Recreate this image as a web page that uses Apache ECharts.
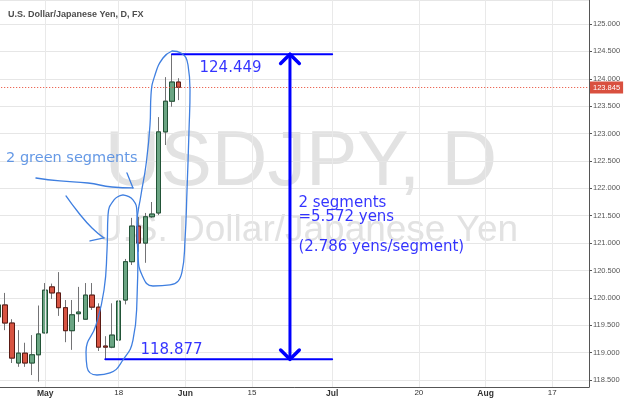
<!DOCTYPE html>
<html lang="en">
<head>
	<meta charset="UTF-8">
	<title>USDJPY, D</title>
	<script src="https://cdn.jsdelivr.net/npm/echarts@6/dist/echarts.min.js"></script>
	<style>
		html,body{width:100%;height:100%;margin:0;padding:0;background:#fff;}
		#chart{width:625px;height:399px;}
	</style>
</head>
<body>
	<div id="chart"></div>
<script>
	// trading days (weekdays) shown on the time axis
	var days = [
		'04-22','04-23','04-24','04-27','04-28','04-29','04-30',
		'05-01','05-04','05-05','05-06','05-07','05-08','05-11','05-12','05-13','05-14','05-15',
		'05-18','05-19','05-20','05-21','05-22','05-25','05-26','05-27','05-28','05-29',
		'06-01','06-02','06-03','06-04','06-05','06-08','06-09','06-10','06-11','06-12',
		'06-15','06-16','06-17','06-18','06-19','06-22','06-23','06-24','06-25','06-26','06-29','06-30',
		'07-01','07-02','07-03','07-06','07-07','07-08','07-09','07-10','07-13','07-14','07-15','07-16','07-17',
		'07-20','07-21','07-22','07-23','07-24','07-27','07-28','07-29','07-30','07-31',
		'08-03','08-04','08-05','08-06','08-07','08-10','08-11','08-12','08-13','08-14',
		'08-17','08-18','08-19','08-20','08-21','08-24'
	];

	// daily candles, Apr 22 .. May 29
	var opens  = [119.65,119.87,119.54,118.81,118.99,118.81,118.96,119.36,120.20,120.09,119.82,119.40,119.71,119.61,
	              120.05,119.83,119.12,119.10,119.23,119.96,120.66,121.31,121.00,121.48,121.55,123.03,123.59,123.94];
	var closes = [119.87,119.54,118.90,118.99,118.81,118.96,119.34,120.14,120.09,119.82,119.40,119.69,119.74,120.05,
	              119.83,119.10,119.10,119.32,119.94,120.66,121.31,121.00,121.48,121.53,123.03,123.59,123.94,123.845];
	var lows   = [119.60,119.41,118.81,118.74,118.74,118.59,118.47,119.35,119.98,119.67,119.19,119.05,119.56,119.60,
	              119.78,119.03,118.877,119.08,119.21,119.88,120.60,120.84,120.64,121.46,121.51,122.79,123.49,123.61];
	var highs  = [119.95,120.09,119.61,119.41,119.18,119.32,119.86,120.27,120.26,120.47,119.96,119.96,120.20,120.27,
	              120.27,119.90,119.30,119.90,119.97,120.71,121.46,121.48,121.55,121.75,123.30,124.03,124.449,124.01];

	// time axis labels
	var tickDays  = ['05-01','05-18','06-01','06-15','07-01','07-20','08-03','08-17'];
	var tickTexts = ['May','18','Jun','15','Jul','20','Aug','17'];

	var lastPrice = 123.845;

	// measured move: from the May 14 low to the May 28 high, lines run to Jul 1
	var rangeHigh = 124.449, rangeLow = 118.877;
	var highDay = 26, lowDay = 16, lineEnd = 50, arrowDay = 43.68;

	// hand drawn marks, as [trading day, price]
	var topLoop = [[26.0,124.507],[24.65,124.379],[23.45,124.069],[22.85,123.704],[22.7,123.156],[22.1,122.426],
	               [21.35,121.878],[20.75,121.33],[20.9,120.782],[21.5,120.417],[23.15,120.216],[25.7,120.235],
	               [27.5,120.472],[27.95,121.056],[28.25,121.969],[28.55,123.065],[28.7,123.795],[28.4,124.251],
	               [27.35,124.471],[26.0,124.507]];
	var lowLoop = [[18.65,121.878],[20.15,121.787],[20.75,121.549],[20.9,120.874],[20.75,119.961],[20.15,119.23],
	               [18.65,118.865],[16.7,118.628],[14.76,118.591],[13.26,118.737],[13.11,119.011],[14.61,119.504],
	               [15.81,120.143],[16.26,120.874],[16.41,121.513],[17.31,121.787],[18.65,121.878]];
	var arrowA = [[5.61,122.188],[9.21,122.134],[13.41,122.097],[17.01,122.024],[20.15,122.006]];
	var arrowAHook = [[19.25,122.28],[20.15,122.006]];
	var arrowB = [[10.11,121.86],[11.91,121.567],[14.01,121.275],[15.81,121.093]];
	var arrowBHook = [[13.71,121.038],[15.81,121.093]];

	// notes, anchored at their left middle
	var notes = [
		{text: '124.449', at: [30.05, 124.197]},
		{text: '118.877', at: [21.2, 119.048]},
		{text: '2 segments\n=5.572 yens\n\n(2.786 yens/segment)', at: [44.88, 121.335]}
	];
	var greenNote = {text: '2 green segments', at: [1.05, 122.553]};

	chart();

	function pen(points, color, width, smooth) {
		return {
			type: 'line', xAxisIndex: 1, data: points, symbol: 'none', silent: true,
			smooth: smooth || false, z: 6,
			lineStyle: {color: color, width: width, cap: 'round', join: 'round'}
		};
	}

	function chart() {
		var blue = '#0000ff', sketch = '#3f7fe0';

		var wicks = [], bodies = [];
		for (var i = 0; i < opens.length; i++) {
			wicks.push([opens[i], closes[i], lows[i], highs[i]]);
			bodies.push([opens[i], closes[i], Math.min(opens[i], closes[i]), Math.max(opens[i], closes[i])]);
		}

		var noteData = [];
		for (var k = 0; k < notes.length; k++) {
			noteData.push({value: notes[k].at, label: {formatter: notes[k].text}});
		}

		var w = 1.4, h = 0.17; // arrow head half width (days) and height (yen)

		var series = [
			{
				type: 'candlestick', data: wicks, barWidth: 5, z: 2, silent: true,
				itemStyle: {color: '#737375', color0: '#737375', borderColor: '#737375', borderColor0: '#737375', borderWidth: 1},
				markLine: {
					symbol: ['none', 'none'], silent: true, label: {show: false},
					lineStyle: {color: '#e9e9e9', width: 1, type: 'solid'},
					data: tickDays.map(function (d) { return {xAxis: d}; })
				}
			},
			{
				type: 'candlestick', data: bodies, barWidth: 5, z: 3, silent: true,
				itemStyle: {color: '#6ba583', color0: '#d75442', borderColor: '#225437', borderColor0: '#5b1a13', borderWidth: 1},
				markLine: {
					symbol: ['none', 'none'], silent: true,
					lineStyle: {color: '#e8462f', width: 1, type: [1, 2]},
					label: {
						position: 'end', distance: 1, formatter: lastPrice.toFixed(3),
						color: '#fff', backgroundColor: '#d9503f', padding: [2, 3, 2, 3],
						fontSize: 7.5, fontFamily: 'Liberation Sans'
					},
					data: [{yAxis: lastPrice}]
				}
			},
			pen([[highDay, rangeHigh], [lineEnd, rangeHigh]], blue, 2),
			pen([[lowDay, rangeLow], [lineEnd, rangeLow]], blue, 2),
			pen([[arrowDay, rangeHigh], [arrowDay, rangeLow]], blue, 3),
			pen([[arrowDay - w, rangeHigh - h], [arrowDay, rangeHigh], [arrowDay + w, rangeHigh - h]], blue, 3.5),
			pen([[arrowDay - w, rangeLow + h], [arrowDay, rangeLow], [arrowDay + w, rangeLow + h]], blue, 3.5),
			pen(topLoop, sketch, 1.3, 0.5),
			pen(lowLoop, sketch, 1.3, 0.5),
			pen(arrowA, sketch, 1.3, 0.5),
			pen(arrowAHook, sketch, 1.3),
			pen(arrowB, sketch, 1.3, 0.5),
			pen(arrowBHook, sketch, 1.3),
			{
				type: 'scatter', xAxisIndex: 1, data: noteData, symbolSize: 1, silent: true, z: 7,
				itemStyle: {color: 'rgba(255,255,255,0)'},
				label: {show: true, position: 'right', distance: 0, color: blue, fontSize: 15, lineHeight: 14.7, fontFamily: 'DejaVu Sans'}
			},
			{
				type: 'scatter', xAxisIndex: 1, data: [greenNote.at], symbolSize: 1, silent: true, z: 7,
				itemStyle: {color: 'rgba(255,255,255,0)'},
				label: {show: true, position: 'right', distance: 0, formatter: greenNote.text, color: sketch, fontSize: 14.5, fontFamily: 'DejaVu Sans'}
			}
		];

		var isTick = function (i, v) { return tickDays.indexOf(v) >= 0; };

		var myChart = echarts.init(document.getElementById('chart'), null, {renderer: 'canvas'});
		var options = {
			animation: false,
			backgroundColor: '#fff',
			title: {
				text: 'U.S. Dollar/Japanese Yen, D, FX', left: 3, top: 5,
				textStyle: {fontSize: 9, fontWeight: 'bold', color: '#4d4d4d', fontFamily: 'Liberation Sans'}
			},
			graphic: [
				{type: 'text', x: 301, y: 164, z: 0, silent: true,
				 style: {text: 'USDJPY, D', font: '77px "Liberation Sans"', fill: '#e2e2e2', align: 'center', verticalAlign: 'middle'}},
				{type: 'text', x: 307, y: 231, z: 0, silent: true,
				 style: {text: 'U.S. Dollar/Japanese Yen', font: '37px "Liberation Sans"', fill: '#e2e2e2', align: 'center', verticalAlign: 'middle'}}
			],
			grid: {left: -4.8, right: 36, top: 0, bottom: 12, containLabel: false, outerBoundsMode: 'none'},
			xAxis: [
				{
					type: 'category', data: days, boundaryGap: true,
					axisLine: {onZero: false, lineStyle: {color: '#555', width: 1}},
					axisTick: {interval: isTick, alignWithLabel: true, length: 3, lineStyle: {color: '#555'}},
					axisLabel: {
						interval: isTick, margin: 2, color: '#333', fontFamily: 'Liberation Sans', fontSize: 8,
						formatter: function (v) {
							var t = tickTexts[tickDays.indexOf(v)];
							return isNaN(+t) ? '{m|' + t + '}' : '{d|' + t + '}';
						},
						rich: {
							m: {fontSize: 8.5, fontWeight: 'bold', color: '#333', fontFamily: 'Liberation Sans'},
							d: {fontSize: 8, color: '#333', fontFamily: 'Liberation Sans'}
						}
					},
					splitLine: {show: false}
				},
				{type: 'value', min: -0.5, max: 88.5, show: false}
			],
			yAxis: {
				type: 'value', position: 'right', min: 118.372, max: 125.438,
				splitNumber: 14, minInterval: 0.5, maxInterval: 0.5,
				axisLine: {show: true, onZero: false, lineStyle: {color: '#555', width: 1}},
				axisTick: {show: true, length: 3, lineStyle: {color: '#555'}},
				axisLabel: {
					margin: 4, color: '#555', fontSize: 7.5, fontFamily: 'Liberation Sans',
					showMinLabel: false, showMaxLabel: false,
					formatter: function (v) { return v.toFixed(3); }
				},
				splitLine: {show: true, lineStyle: {color: '#e6e6e6', width: 1}}
			},
			series: series
		};
		myChart.setOption(options);
	}
</script>
</body>
</html>
